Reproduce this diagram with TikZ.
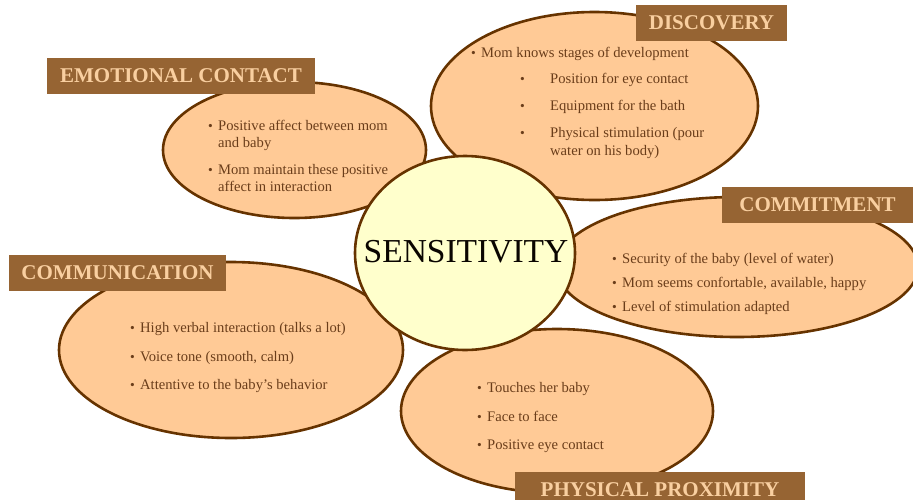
\documentclass[tikz,border=0pt]{standalone}
\usepackage{fontspec}
\setmainfont{Liberation Serif}
\usetikzlibrary{shapes.geometric}
\definecolor{petal}{HTML}{FFCA96}
\definecolor{rim}{HTML}{663300}
\definecolor{core}{HTML}{FFFFCC}
\definecolor{tagfill}{HTML}{966433}
\definecolor{tagtext}{HTML}{F9CFA0}
\definecolor{body}{HTML}{6A3D1A}
\tikzset{
  petalshape/.style={ellipse, draw=rim, fill=petal, line width=2.6pt, inner sep=0pt},
  coreshape/.style={ellipse, draw=rim, fill=core, line width=2.6pt, inner sep=0pt},
  tagbox/.style={rectangle, fill=tagfill, inner sep=0pt, text=tagtext, font=\fontsize{21}{24}\selectfont\bfseries},
  tagword/.style={anchor=base, inner sep=0pt, text=tagtext, font=\fontsize{21}{24}\selectfont\bfseries},
  txt/.style={anchor=base west, inner sep=0pt, text=body, font=\fontsize{14.6}{17}\selectfont},
  dot/.style={anchor=base west, inner sep=0pt, text=body, font=\fontsize{13.5}{17}\selectfont},
}
\begin{document}
\begin{tikzpicture}[x=1pt,y=-1pt]
\useasboundingbox (0,0) rectangle (913,499);
% petals
\node[petalshape, minimum width=263pt, minimum height=136pt] (emo) at (294.5,150) {};
\node[petalshape, minimum width=327pt, minimum height=188pt] (dis) at (594.5,106) {};
\node[petalshape, minimum width=362pt, minimum height=140pt] (com) at (737,267) {};
\node[petalshape, minimum width=344pt, minimum height=176pt] (cmu) at (231,350) {};
\node[petalshape, minimum width=312pt, minimum height=164pt] (phy) at (557,411) {};
% centre
\node[coreshape, minimum width=220pt, minimum height=194pt] (sen) at (465,253) {};
\node[anchor=base, inner sep=0pt, text=black!90!rim, font=\fontsize{33.5}{38}\selectfont] (sent) at (466,262) {SENSITIVITY};
% emotional contact
\node[dot] (e1b) at (208,130) {•};
\node[txt] (e1) at (218,130) {Positive affect between mom};
\node[txt] (e1c) at (218,147) {and baby};
\node[dot] (e2b) at (208,174) {•};
\node[txt] (e2) at (218,174) {Mom maintain these positive};
\node[txt] (e2c) at (218,191) {affect in interaction};
% discovery
\node[dot] (d1b) at (471,57) {•};
\node[txt] (d1) at (481,57) {Mom knows stages of development};
\node[dot] (d2b) at (520,83) {•};
\node[txt] (d2) at (550,83) {Position for eye contact};
\node[dot] (d3b) at (520,110) {•};
\node[txt] (d3) at (550,110) {Equipment for the bath};
\node[dot] (d4b) at (520,137) {•};
\node[txt] (d4) at (550,137) {Physical stimulation (pour};
\node[txt] (d4c) at (550,155) {water on his body)};
% commitment
\node[dot] (c1b) at (612,263) {•};
\node[txt] (c1) at (622,263) {Security of the baby (level of water)};
\node[dot] (c2b) at (612,287) {•};
\node[txt] (c2) at (622,287) {Mom seems confortable, available, happy};
\node[dot] (c3b) at (612,311) {•};
\node[txt] (c3) at (622,311) {Level of stimulation adapted};
% communication
\node[dot] (m1b) at (130,332) {•};
\node[txt] (m1) at (140,332) {High verbal interaction (talks a lot)};
\node[dot] (m2b) at (130,361) {•};
\node[txt] (m2) at (140,361) {Voice tone (smooth, calm)};
\node[dot] (m3b) at (130,389) {•};
\node[txt] (m3) at (140,389) {Attentive to the baby's behavior};
% physical proximity
\node[dot] (p1b) at (477,392) {•};
\node[txt] (p1) at (487,392) {Touches her baby};
\node[dot] (p2b) at (477,421) {•};
\node[txt] (p2) at (487,421) {Face to face};
\node[dot] (p3b) at (477,449) {•};
\node[txt] (p3) at (487,449) {Positive eye contact};
% tags
\node[tagbox, minimum width=268pt, minimum height=36pt] (temo) at (181,76) {EMOTIONAL CONTACT};
\node[tagbox, minimum width=151pt, minimum height=36pt] (tdis) at (711.5,23) {DISCOVERY};
\node[tagbox, minimum width=191pt, minimum height=36pt] (tcom) at (817.5,205) {COMMITMENT};
\node[tagbox, minimum width=217pt, minimum height=36pt] (tcmu) at (117.5,273) {COMMUNICATION};
\node[tagbox, minimum width=290pt, minimum height=36pt] (tphy) at (660,490) {};
\node[tagword] (tphyt) at (660,496) {PHYSICAL PROXIMITY};
\end{tikzpicture}
\end{document}
